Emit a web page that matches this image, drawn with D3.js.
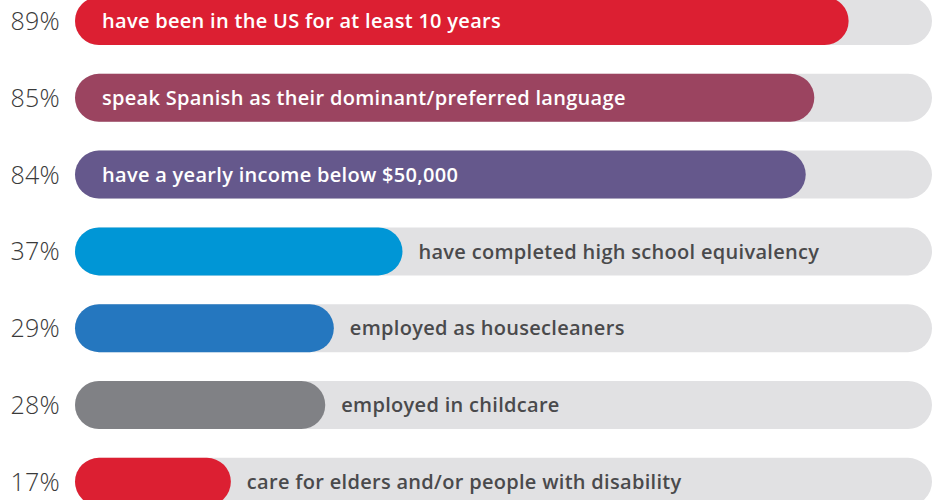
<!DOCTYPE html>
<html>
<head>
<meta charset="utf-8">
<script src="https://cdn.jsdelivr.net/npm/d3@7"></script>
<style>
  body { margin: 0; background: #fff; }
  svg { display: block; }
</style>
</head>
<body>
<div id="chart"></div>
<script>
var labels = [
  "have been in the US for at least 10 years",
  "speak Spanish as their dominant/preferred language",
  "have a yearly income below $50,000",
  "have completed high school equivalency",
  "employed as housecleaners",
  "employed in childcare",
  "care for elders and/or people with disability"
];
var values = [89, 85, 84, 37, 29, 28, 17];
var colors = ["#dc1f32", "#9b4460", "#65588c", "#0096d6", "#2577bf", "#808185", "#dc1f32"];

var w = 933, h = 500,
    bx = 75;

var x = d3.scaleLinear().domain([0, 100]).range([bx + 10, bx + 868]);
var y = d3.scaleBand().domain(labels).range([-3, 505.8]).paddingInner(0.375).paddingOuter(0);
var bh = y.bandwidth(), r = bh / 2;

var svg = d3.select("#chart").append("svg")
    .attr("width", w)
    .attr("height", h);

var rows = svg.selectAll("g.row")
    .data(labels)
    .enter().append("g")
    .attr("class", "row")
    .attr("transform", (d) => "translate(0," + y(d) + ")");

/* grey track */
rows.append("rect")
  .attr("x", bx)
  .attr("width", w - 1 - bx)
  .attr("height", bh)
  .attr("rx", r)
  .attr("fill", "#e1e1e3");

/* value bar */
rows.append("rect")
  .attr("x", bx)
  .attr("width", (d, i) => x(values[i]) - bx)
  .attr("height", bh)
  .attr("rx", r)
  .attr("fill", (d, i) => colors[i]);

/* percent on the left */
rows.append("text")
  .attr("x", 60)
  .attr("y", bh / 2)
  .attr("dy", ".36em")
  .attr("text-anchor", "end")
  .style("font", "300 25px 'Open Sans', sans-serif")
  .style("letter-spacing", "0.3px")
  .attr("fill", "#3a3a3a")
  .text((d, i) => values[i] + "%");

/* label, inside long bars, after short ones */
rows.append("text")
  .attr("x", (d, i) => values[i] > 50 ? bx + 27 : x(values[i]) + 16)
  .attr("y", bh / 2)
  .attr("dy", ".36em")
  .style("font", "600 20px 'Open Sans', sans-serif")
  .style("letter-spacing", "0.3px")
  .attr("fill", (d, i) => values[i] > 50 ? "#fff" : "#4a4a4c")
  .text((d) => d);
</script>
</body>
</html>
